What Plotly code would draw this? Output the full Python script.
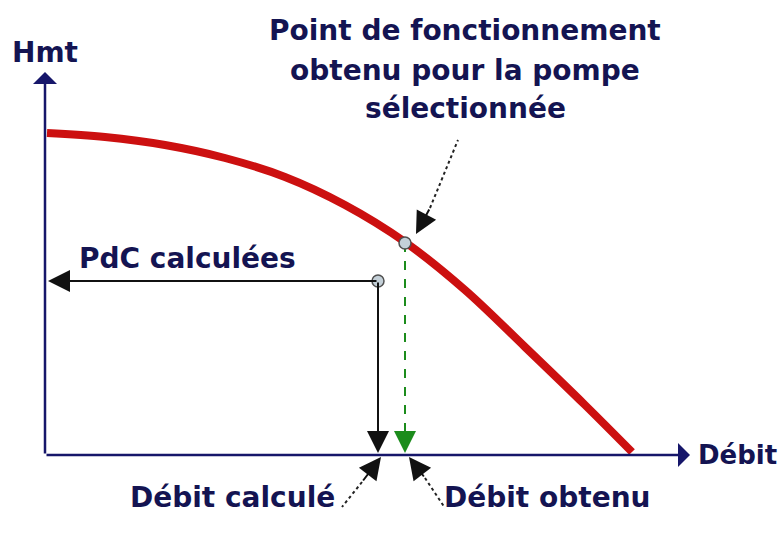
import plotly.graph_objects as go

# courbe de la pompe (Débit, Hmt) en unités arbitraires
debit_pompe = [2, 60, 120, 180, 240, 300, 360, 420, 480, 540, 587]
hmt_pompe = [322, 318, 310, 297, 278, 250, 213, 165, 108, 50, 3]

# point de fonctionnement obtenu et point calculé
q_obtenu, h_obtenu = 360, 212
q_calcule, h_calcule = 333, 174

x_max, y_max = 645, 383

NAVY = "#16166a"
TXT = "#141452"
RED = "#cc1010"
GREEN = "#1c8c1c"
FONT = dict(family="DejaVu Sans", size=28, color=TXT)

fig = go.Figure()

# courbe rouge
fig.add_trace(go.Scatter(x=debit_pompe, y=hmt_pompe, mode="lines",
                         line=dict(color=RED, width=8, shape="spline", smoothing=1.0),
                         hoverinfo="skip"))

# pointillé vert vers le débit obtenu
fig.add_trace(go.Scatter(x=[q_obtenu, q_obtenu], y=[h_obtenu, 12], mode="lines",
                         line=dict(color=GREEN, width=2, dash="dash"), hoverinfo="skip"))

# lignes de rappel pointillées
leaders = [
    ([385, 413], [247, 315]),
    ([317, 297], [-27, -52]),
    ([380, 400], [-23, -53]),
]
for lx, ly in leaders:
    fig.add_trace(go.Scatter(x=lx, y=ly, mode="lines",
                             line=dict(color="#222222", width=2, dash="dot"),
                             hoverinfo="skip"))

# points
fig.add_trace(go.Scatter(x=[q_obtenu, q_calcule], y=[h_obtenu, h_calcule], mode="markers",
                         marker=dict(size=12, color="#c4d0d8", symbol="circle",
                                     line=dict(color="#505050", width=1.5)),
                         hoverinfo="skip"))

arrows = [
    # axes
    dict(x=0, y=y_max, ax=0, ay=0, arrowcolor=NAVY, arrowwidth=2.5, arrowhead=1, arrowsize=1.6),
    dict(x=x_max, y=0, ax=0, ay=0, arrowcolor=NAVY, arrowwidth=2.5, arrowhead=1, arrowsize=1.6),
    # PdC calculées
    dict(x=3, y=h_calcule, ax=q_calcule, ay=h_calcule, arrowcolor="#111111", arrowwidth=2, arrowhead=2, arrowsize=2.2),
    dict(x=q_calcule, y=2, ax=q_calcule, ay=h_calcule, arrowcolor="#111111", arrowwidth=2, arrowhead=2, arrowsize=2.2),
    # vert
    dict(x=q_obtenu, y=2, ax=q_obtenu, ay=20, arrowcolor=GREEN, arrowwidth=2, arrowhead=2, arrowsize=2.2),
    # rappels
    dict(x=371, y=221, ax=385, ay=247, arrowcolor="#111111", arrowwidth=2, arrowhead=2, arrowsize=2.2),
    dict(x=336, y=-2, ax=317, ay=-27, arrowcolor="#111111", arrowwidth=2, arrowhead=2, arrowsize=2.2),
    dict(x=364, y=-2, ax=380, ay=-23, arrowcolor="#111111", arrowwidth=2, arrowhead=2, arrowsize=2.2),
]
for a in arrows:
    fig.add_annotation(text="", showarrow=True, axref="x", ayref="y",
                       standoff=0, startstandoff=0, **a)

labels = [
    ("Hmt", 0, 403, "center", 28),
    ("Débit", 651, 0, "left", 26),
    ("PdC calculées", 32, 197, "left", 28),
    ("Point de fonctionnement", 420, 425, "center", 28),
    ("obtenu pour la pompe", 420, 385, "center", 28),
    ("sélectionnée", 420, 347, "center", 28),
    ("Débit calculé", 187, -42, "center", 28),
    ("Débit obtenu", 502, -42, "center", 28),
]
for txt, lx, ly, anchor, sz in labels:
    fig.add_annotation(text="<b>" + txt + "</b>", x=lx, y=ly, showarrow=False,
                       xanchor=anchor, yanchor="middle", font=dict(FONT, size=sz))

fig.update_layout(
    width=778, height=542,
    margin=dict(l=0, r=0, t=0, b=0),
    paper_bgcolor="white", plot_bgcolor="white",
    showlegend=False,
    xaxis=dict(range=[-45, 733], visible=False, fixedrange=True),
    yaxis=dict(range=[-87, 455], visible=False, fixedrange=True),
)

fig.write_html("out.html", config={"displayModeBar": False},
               post_script="document.body.style.margin='0';document.body.style.overflow='hidden';")
